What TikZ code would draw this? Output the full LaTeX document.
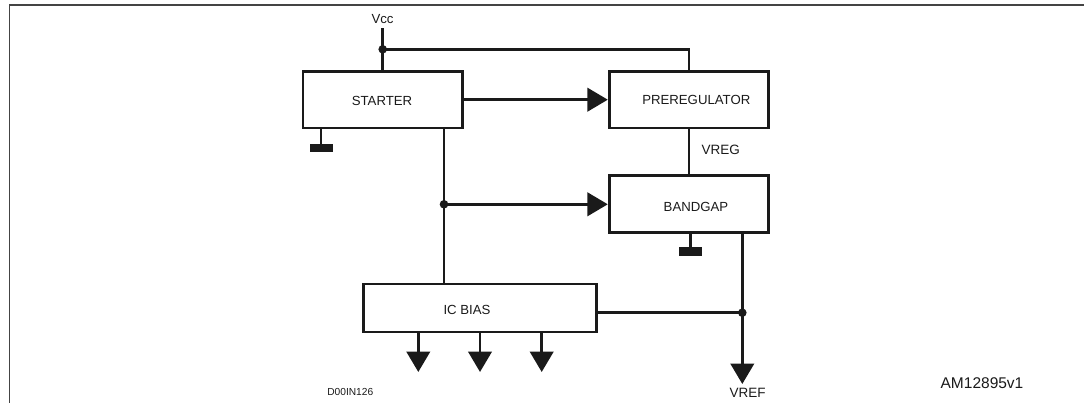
\documentclass[tikz,border=0pt]{standalone}
\usepackage{fontspec}
\setmainfont{Liberation Sans}
\usetikzlibrary{arrows.meta}
\definecolor{ink}{HTML}{1A1A1A}
\definecolor{frame}{HTML}{444444}
\begin{document}
\begin{tikzpicture}[x=1pt,y=-1pt,
  blk/.style={draw=ink, line width=2.8pt, inner sep=0pt},
  txt/.style={text=ink, inner sep=0pt, font=\fontsize{13.2}{15}\selectfont},
  wire/.style={draw=ink, line width=2.8pt},
  arr/.style={wire, -{Triangle[length=20.5pt,width=23.5pt]}},
  gbar/.style={fill=ink},
]
\useasboundingbox (0,0) rectangle (1084,403);
% frame
\draw[frame, line width=1.5pt] (9.5,403) -- (9.5,5) -- (1084,5);

% blocks
\node[blk, minimum width=159.6pt, minimum height=56.6pt] (starter) at (382.7,99.7) {};
\node[blk, minimum width=159.6pt, minimum height=56.6pt] (prereg) at (689,99.7) {};
\node[blk, minimum width=159.6pt, minimum height=57.2pt] (bandgap) at (689,204.3) {};
\node[blk, minimum width=233pt, minimum height=48pt] (icbias) at (480,308) {};

% block texts
\node[txt] (tstarter) at (382,100.5) {STARTER};
\node[txt] (tprereg) at (696.3,99.5) {PREREGULATOR};
\node[txt] (tbandgap) at (696,207) {BANDGAP};
\node[txt] (ticbias) at (467,310) {IC BIAS};

% labels
\node[txt] (lvcc) at (382.5,18.7) {Vcc};
\node[txt, font=\fontsize{13.5}{15}\selectfont] (lvreg) at (720.8,150) {VREG};
\node[txt, font=\fontsize{13.5}{15}\selectfont] (lvref) at (747.5,393.3) {VREF};
\node[txt, font=\fontsize{10.2}{12}\selectfont] (ldoc) at (350.3,392.3) {D00IN126};
\node[txt, font=\fontsize{15.5}{18}\selectfont] (lam) at (982,383.3) {AM12895v1};

% coordinates
\coordinate (vcctop) at (382.7,28.3);
\coordinate (vccdot) at (382.7,49.3);
\coordinate (sdot) at (444,204.3);
\coordinate (vdot) at (742.3,312.7);
\coordinate (vrefend) at (742.3,384);
\coordinate (g1) at (321,152);
\coordinate (g2) at (690.8,256);
\coordinate (o1) at (418.3,372);
\coordinate (o2) at (480,372);
\coordinate (o3) at (541.7,372);

% Vcc
\draw[wire] (vcctop) -- (starter.north);
\draw[wire] (vccdot) -| (prereg.north);
\fill[ink] (vccdot) circle (4.3pt);

% starter -> prereg
\draw[arr] (starter.east) -- (prereg.west);

% starter ground
\draw[wire] (g1 |- starter.south) -- (g1);
\fill[gbar] ([xshift=-11.5pt]g1) rectangle ([xshift=11.5pt,yshift=7.5pt]g1);

% VREG
\draw[wire] (prereg.south) -- (bandgap.north);

% bandgap ground
\draw[wire] (g2 |- bandgap.south) -- (g2);
\fill[gbar] ([xshift=-11.5pt]g2) rectangle ([xshift=11.5pt,yshift=9pt]g2);

% starter down to ic bias, with branch to bandgap
\draw[wire] (sdot |- starter.south) -- (sdot |- icbias.north);
\fill[ink] (sdot) circle (4.3pt);
\draw[arr] (sdot) -- (bandgap.west);

% bandgap output to VREF
\draw[wire] (vdot |- bandgap.south) -- (vdot);
\draw[arr] (vdot) -- (vrefend);
\draw[wire] (icbias.east |- vdot) -- (vdot);
\fill[ink] (vdot) circle (4.3pt);

% ic bias outputs
\draw[arr] (o1 |- icbias.south) -- (o1);
\draw[arr] (o2 |- icbias.south) -- (o2);
\draw[arr] (o3 |- icbias.south) -- (o3);
\end{tikzpicture}
\end{document}
